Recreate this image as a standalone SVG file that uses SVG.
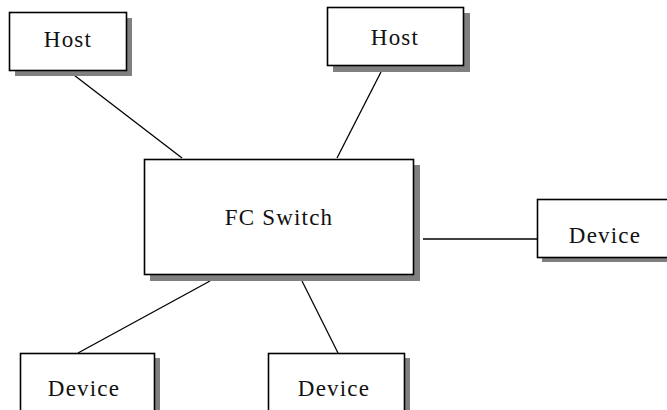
<svg xmlns="http://www.w3.org/2000/svg" width="667" height="410" viewBox="0 0 667 410">
<style>
.shadow{fill:#808080;stroke:none}
.box{fill:#ffffff;stroke:#000000;stroke-width:1.6}
.lbl{font-size:23px;letter-spacing:1.2px;fill:#111111;text-anchor:middle}
.conn line{stroke:#000000;stroke-width:1.3}
</style>
<rect width="667" height="410" fill="#ffffff"/>
<g class="conn" id="connectors">
<line x1="70" y1="72" x2="182" y2="158"/>
<line x1="381" y1="72" x2="337" y2="158"/>
<line x1="423" y1="239" x2="537" y2="239"/>
<line x1="210" y1="281" x2="78" y2="353"/>
<line x1="302" y1="281" x2="338" y2="353"/>
</g>
<g id="host1">
<rect class="shadow" x="15" y="18" width="117" height="58"/>
<rect class="box" x="9.5" y="12.5" width="117" height="58"/>
<text class="lbl" font-family="Liberation Serif, serif" x="68" y="47">Host</text>
</g>
<g id="host2">
<rect class="shadow" x="333" y="13" width="137" height="59"/>
<rect class="box" x="327.5" y="7.5" width="136" height="58"/>
<text class="lbl" font-family="Liberation Serif, serif" x="395" y="45">Host</text>
</g>
<g id="switch">
<rect class="shadow" x="150" y="165" width="270" height="116"/>
<rect class="box" x="144.5" y="159.5" width="269" height="115"/>
<text class="lbl" font-family="Liberation Serif, serif" x="279" y="225">FC Switch</text>
</g>
<g id="device-right">
<rect class="shadow" x="542" y="204" width="140" height="58"/>
<rect class="box" x="537.5" y="199.5" width="135" height="58"/>
<text class="lbl" font-family="Liberation Serif, serif" x="605" y="243">Device</text>
</g>
<g id="device-bl">
<rect class="shadow" x="25" y="358" width="135" height="60"/>
<rect class="box" x="20.5" y="353.5" width="134" height="60"/>
<text class="lbl" font-family="Liberation Serif, serif" x="84" y="396">Device</text>
</g>
<g id="device-bm">
<rect class="shadow" x="273" y="358" width="137" height="60"/>
<rect class="box" x="268.5" y="353.5" width="136" height="60"/>
<text class="lbl" font-family="Liberation Serif, serif" x="334" y="396">Device</text>
</g>
</svg>
